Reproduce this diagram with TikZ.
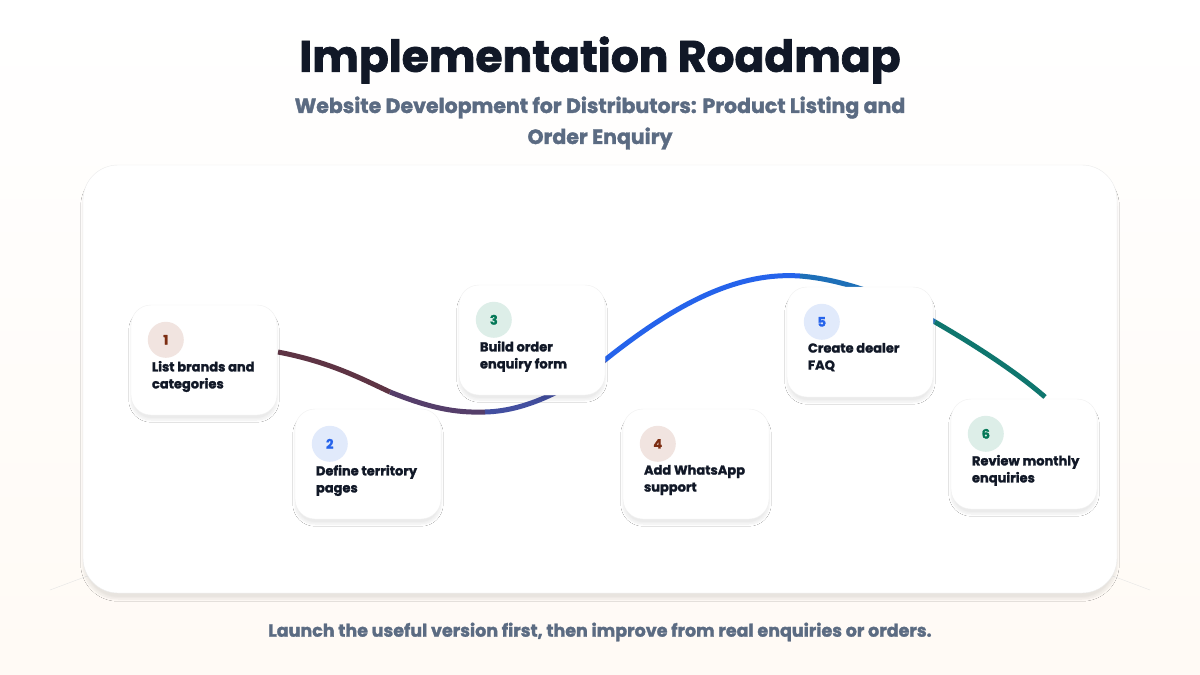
\documentclass[tikz,border=0pt]{standalone}
\usepackage{fontspec}
\setmainfont{Poppins}[BoldFeatures={FakeBold=1.6}]
\usetikzlibrary{shadows.blur}
\definecolor{ink}{HTML}{111827}
\definecolor{slate}{HTML}{5B6B82}
\definecolor{cA}{HTML}{7C2D12}\definecolor{bA}{HTML}{F1E4E0}
\definecolor{cB}{HTML}{2563EB}\definecolor{bB}{HTML}{E1EAFB}
\definecolor{cC}{HTML}{047857}\definecolor{bC}{HTML}{DDEEE8}
\definecolor{sA}{HTML}{5E3444}\definecolor{sA2}{HTML}{553E6A}\definecolor{sB}{HTML}{434FA0}
\definecolor{sD}{HTML}{1D6FB8}\definecolor{sE}{HTML}{0F766E}
\begin{document}
\begin{tikzpicture}[x=1pt,y=-1pt,
 card/.style={draw=black!6,fill=white,rounded corners=20pt,minimum width=146pt,minimum height=110pt,blur shadow={shadow xshift=0pt,shadow yshift=-5pt,shadow blur steps=8,shadow opacity=8}},
 num/.style={circle,minimum size=36pt,inner sep=0pt,font=\fontsize{13}{13}\selectfont\bfseries},
 lab/.style={anchor=north west,align=left,inner sep=0pt,font=\fontsize{13}{17}\selectfont\bfseries,text=ink},
 road/.style={line width=5pt}]
\fill[top color=white,bottom color={orange!4}] (0,0) rectangle (1200,675);
\useasboundingbox (0,0) rectangle (1200,675);
\draw[black!10] (50,590) -- (90,575) (1110,575) -- (1150,590);
\node[draw=black!8,fill=white,rounded corners=35pt,minimum width=1034pt,minimum height=428pt,blur shadow={shadow xshift=0pt,shadow yshift=-6pt,shadow blur steps=10,shadow opacity=9}] (panel) at (600,379) {};
\node[font=\fontsize{44}{44}\selectfont\bfseries,text=ink] (title) at (600,60) {Implementation Roadmap};
\node[font=\fontsize{20.5}{31}\selectfont\bfseries,text=slate,align=center] (sub) at (600,123) {Website Development for Distributors: Product Listing and\\Order Enquiry};
\node[font=\fontsize{17.5}{17.5}\selectfont\bfseries,text=slate] (foot) at (600,632) {Launch the useful version first, then improve from real enquiries or orders.};
% road
\coordinate (r0) at (278,352); \coordinate (r1) at (485,412); \coordinate (r2) at (605,360);
\coordinate (r3) at (800,276); \coordinate (r4) at (935,322); \coordinate (r5) at (1045,397);
\coordinate (ra) at (390,392);
\draw[road,sA] (r0) .. controls (330,362) and (360,378) .. (ra);
\draw[road,sA2] (ra) .. controls (430,408) and (455,413) .. (r1);
\draw[road,sB] (r1) .. controls (530,411) and (575,385) .. (r2);
\draw[road,cB] (r2) .. controls (680,300) and (740,272) .. (r3);
\draw[road,sD] (r3) .. controls (850,280) and (900,302) .. (r4);
\draw[road,sE] (r4) .. controls (980,348) and (1020,375) .. (r5);
\foreach \n/\x/\y/\c/\b/\t in {1/204/360/cA/bA/{List brands and\\categories},2/368/464/cB/bB/{Define territory\\pages},3/532/340/cC/bC/{Build order\\enquiry form},4/696/464/cA/bA/{Add WhatsApp\\support},5/860/342/cB/bB/{Create dealer\\FAQ},6/1024/454/cC/bC/{Review monthly\\enquiries}}{
 \node[card] (card\n) at (\x,\y) {};
 \node[num,fill=\b,text=\c] (n\n) at ([xshift=35pt,yshift=-35pt]card\n.north west) {\n};
 \node[lab] (t\n) at ([xshift=21pt,yshift=-56pt]card\n.north west) {\t};
}
\end{tikzpicture}
\end{document}
